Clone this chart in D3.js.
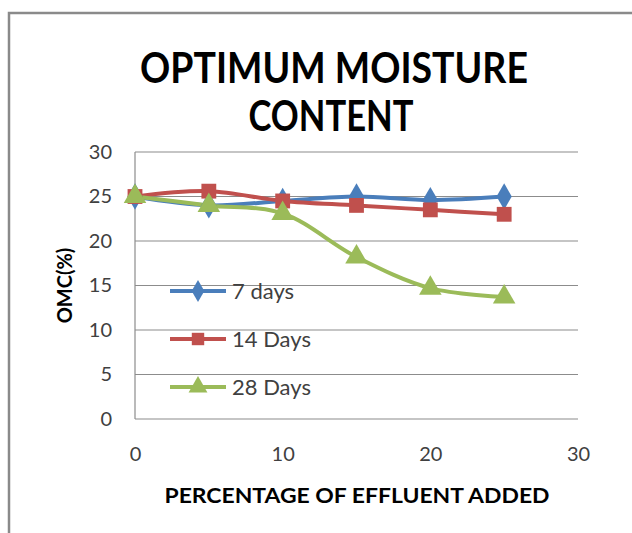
<!DOCTYPE html>
<html>
<head>
<meta charset="utf-8">
<title>omc</title>
<style>
  body { margin: 0; background: #fff; }
  svg text { font-family: Lato, "Open Sans", sans-serif; fill: #000; }
  .tick text { font-size: 20px; fill: #404040; }
  .grid line { stroke: #8c8c8c; stroke-width: 1.2; }
</style>
</head>
<body>
<svg id="chart"></svg>
<script src="https://d3js.org/d3.v7.min.js"></script>
<script>
// data
var xValues = [0, 5, 10, 15, 20, 25];
var days7 = [25, 24, 24.5, 25, 24.6, 25];
var days14 = [25, 25.6, 24.5, 24, 23.5, 23];
var days28 = [25, 24, 23.1, 18.2, 14.7, 13.7];
var seriesNames = ["7 days", "14 Days", "28 Days"];
var xTicks = [0, 10, 20, 30];
var yTicks = [0, 5, 10, 15, 20, 25, 30];

var W = 632, H = 533;
var margin = { top: 152, right: 54, bottom: 114, left: 135 };
var width = W - margin.left - margin.right,
    height = H - margin.top - margin.bottom;

var svg = d3.select("#chart").attr("width", W).attr("height", H);

// outer frame
svg.append("path")
  .attr("d", "M9," + H + " V13 H" + W)
  .attr("fill", "none").attr("stroke", "#8a8a8a").attr("stroke-width", 2.5);

svg.append("text").attr("x", 334).attr("y", 83).attr("text-anchor", "middle")
  .attr("textLength", 388).attr("lengthAdjust", "spacingAndGlyphs")
  .style("font-weight", "bold").style("font-size", "42px").text("OPTIMUM MOISTURE");
svg.append("text").attr("x", 331).attr("y", 131).attr("text-anchor", "middle")
  .attr("textLength", 165).attr("lengthAdjust", "spacingAndGlyphs")
  .style("font-weight", "bold").style("font-size", "42px").text("CONTENT");

var x = d3.scaleLinear().domain([0, 30]).range([0, width]);
var y = d3.scaleLinear().domain([0, 30]).range([height, 0]);

var g = svg.append("g").attr("transform", "translate(" + margin.left + "," + margin.top + ")");

g.append("g").attr("class", "grid")
  .selectAll("line").data(yTicks).join("line")
  .attr("x1", 0).attr("x2", width)
  .attr("y1", function(d) { return y(d); }).attr("y2", function(d) { return y(d); });

g.append("line").attr("x1", 0).attr("x2", 0).attr("y1", 0).attr("y2", height)
  .attr("stroke", "#8c8c8c").attr("stroke-width", 1.2);

var yAxis = g.append("g").call(d3.axisLeft(y).tickValues(yTicks).tickSize(0).tickPadding(23));
yAxis.select(".domain").remove();

var xAxis = g.append("g").attr("transform", "translate(0," + height + ")")
  .call(d3.axisBottom(x).tickValues(xTicks).tickSize(0).tickPadding(28));
xAxis.select(".domain").remove();

svg.append("text").attr("transform", "translate(72," + (margin.top + height / 2) + ") rotate(-90)")
  .attr("text-anchor", "middle").style("font-weight", "bold").style("font-size", "20px").text("OMC(%)");
svg.append("text").attr("x", 357).attr("y", 503).attr("text-anchor", "middle")
  .attr("textLength", 385).attr("lengthAdjust", "spacingAndGlyphs")
  .style("font-weight", "bold").style("font-size", "20px").text("PERCENTAGE OF EFFLUENT ADDED");

var colors = ["#4a7ebb", "#c0504d", "#9bbb59"];
var symbols = [d3.symbolDiamond, d3.symbolSquare, d3.symbolTriangle];
var sizes = [200, 220, 220];
var allSeries = [days7, days14, days28];

var line = d3.line()
  .x(function(d, i) { return x(xValues[i]); })
  .y(function(d) { return y(d); })
  .curve(d3.curveCatmullRom.alpha(0.5));

allSeries.forEach(function(vals, s) {
  g.append("path").datum(vals).attr("d", line)
    .attr("fill", "none").attr("stroke", colors[s]).attr("stroke-width", 4);
});
allSeries.forEach(function(vals, s) {
  g.selectAll(".m" + s).data(vals).join("path")
    .attr("class", "m" + s)
    .attr("transform", function(d, i) { return "translate(" + x(xValues[i]) + "," + y(d) + ")"; })
    .attr("d", d3.symbol().type(symbols[s]).size(sizes[s]))
    .attr("fill", colors[s]);
});

// legend
var legend = g.append("g").attr("transform", "translate(35,0)");
seriesNames.forEach(function(name, s) {
  var ly = 139 + s * 48;
  legend.append("line").attr("x1", 0).attr("x2", 56).attr("y1", ly).attr("y2", ly)
    .attr("stroke", colors[s]).attr("stroke-width", 4);
  legend.append("path").attr("transform", "translate(28," + ly + ")")
    .attr("d", d3.symbol().type(symbols[s]).size(sizes[s] * 0.7)).attr("fill", colors[s]);
  legend.append("text").attr("x", 62).attr("y", ly).attr("dy", "0.35em")
    .style("font-size", "22px").style("fill", "#404040").text(name);
});
</script>
</body>
</html>
